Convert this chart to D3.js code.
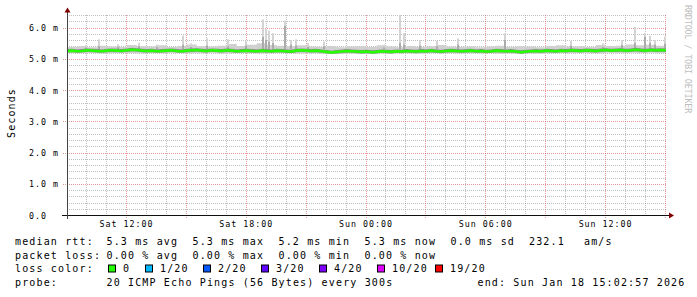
<!DOCTYPE html>
<html>
<head>
<meta charset="utf-8">
<script src="https://cdn.jsdelivr.net/npm/d3@7"></script>
<style>
    body { margin: 0; background: #fff; }
    svg { display: block; }
    text { font-family: "DejaVu Sans Mono", monospace; }
</style>
</head>
<body>
<svg id="canvas" width="697" height="297"></svg>
<script>
let startTime = new Date(2026, 0, 17, 9, 2, 57)
let endTime = new Date(2026, 0, 18, 15, 2, 57)

// median rtt in ms, one value every 15 minutes
let medianRtt = [
    5.25, 5.26, 5.24, 5.25, 5.27, 5.26, 5.25, 5.24, 5.26, 5.27,
    5.26, 5.25, 5.27, 5.29, 5.28, 5.26, 5.25, 5.26, 5.24, 5.25,
    5.26, 5.27, 5.25, 5.24, 5.26, 5.27, 5.28, 5.26, 5.25, 5.27,
    5.26, 5.25, 5.27, 5.26, 5.24, 5.25, 5.26, 5.25, 5.24, 5.26,
    5.25, 5.24, 5.26, 5.25, 5.24, 5.23, 5.26, 5.27, 5.26, 5.25,
    5.26, 5.24, 5.22, 5.20, 5.22, 5.23, 5.25, 5.24, 5.23, 5.22,
    5.23, 5.21, 5.22, 5.24, 5.23, 5.22, 5.24, 5.23, 5.25, 5.24,
    5.23, 5.25, 5.24, 5.26, 5.24, 5.23, 5.25, 5.26, 5.25, 5.24,
    5.25, 5.26, 5.24, 5.25, 5.23, 5.24, 5.26, 5.25, 5.24, 5.25,
    5.23, 5.21, 5.23, 5.24, 5.25, 5.24, 5.26, 5.25, 5.24, 5.26,
    5.25, 5.27, 5.26, 5.25, 5.27, 5.26, 5.25, 5.27, 5.28, 5.26,
    5.27, 5.28, 5.26, 5.27, 5.29, 5.27, 5.26, 5.28, 5.27, 5.28,
    5.27
]

// smoke band (lowest and typical highest ping), one value every 30 minutes
let smokeLow = [
    5.19, 5.18, 5.19, 5.17, 5.18, 5.19, 5.18, 5.17, 5.19, 5.18,
    5.19, 5.18, 5.17, 5.18, 5.19, 5.17, 5.18, 5.19, 5.18, 5.17,
    5.18, 5.19, 5.18, 5.17, 5.18, 5.16, 5.15, 5.16, 5.17, 5.15,
    5.16, 5.17, 5.16, 5.18, 5.17, 5.16, 5.18, 5.17, 5.18, 5.17,
    5.18, 5.17, 5.18, 5.16, 5.17, 5.18, 5.17, 5.16, 5.18, 5.19,
    5.18, 5.19, 5.18, 5.17, 5.19, 5.18, 5.19, 5.18, 5.19, 5.18,
    5.19
]
let smokeHigh = [
    5.38, 5.40, 5.37, 5.42, 5.39, 5.38, 5.44, 5.40, 5.39, 5.43,
    5.38, 5.41, 5.46, 5.40, 5.39, 5.42, 5.47, 5.41, 5.45, 5.50,
    5.44, 5.42, 5.40, 5.43, 5.39, 5.38, 5.41, 5.37, 5.39, 5.40,
    5.38, 5.43, 5.39, 5.37, 5.41, 5.38, 5.40, 5.44, 5.39, 5.38,
    5.40, 5.37, 5.39, 5.42, 5.38, 5.40, 5.39, 5.37, 5.41, 5.43,
    5.39, 5.40, 5.38, 5.44, 5.41, 5.42, 5.46, 5.43, 5.45, 5.42,
    5.40
]

// single-sample outliers: time, highest ping, second tier
let spikeTimes = [
    "2026-01-17 09:57", "2026-01-17 10:35", "2026-01-17 11:32", "2026-01-17 12:36", "2026-01-17 13:30",
    "2026-01-17 14:50", "2026-01-17 15:12", "2026-01-17 16:00", "2026-01-17 17:05", "2026-01-17 17:57",
    "2026-01-17 18:48", "2026-01-17 18:57", "2026-01-17 19:06", "2026-01-17 19:18", "2026-01-17 19:55",
    "2026-01-17 20:12", "2026-01-17 20:27", "2026-01-17 21:03", "2026-01-17 21:51", "2026-01-18 00:54",
    "2026-01-18 01:42", "2026-01-18 01:54", "2026-01-18 02:42", "2026-01-18 03:33", "2026-01-18 04:36",
    "2026-01-18 06:57", "2026-01-18 10:15", "2026-01-18 11:51", "2026-01-18 12:48", "2026-01-18 13:27",
    "2026-01-18 13:57", "2026-01-18 14:12", "2026-01-18 14:27", "2026-01-18 14:57"
]
let spikeTop = [
    5.44, 5.62, 5.46, 5.51, 5.45, 5.74, 5.49, 5.65, 5.62, 5.58,
    6.26, 5.95, 5.90, 5.82, 6.22, 5.60, 5.62, 5.50, 5.55, 5.45,
    6.40, 5.82, 5.60, 5.58, 5.65, 5.81, 5.57, 5.49, 5.60, 6.02,
    5.82, 5.73, 5.60, 5.71
]
let spikeMid = [
    5.36, 5.40, 5.38, 5.40, 5.37, 5.45, 5.38, 5.42, 5.40, 5.42,
    5.70, 5.60, 5.55, 5.50, 6.05, 5.45, 5.42, 5.38, 5.40, 5.36,
    5.50, 5.45, 5.42, 5.40, 5.45, 5.60, 5.42, 5.38, 5.44, 5.50,
    5.70, 5.50, 5.45, 5.48
]

let rttStatValues = ["5.3", "5.3", "5.2", "5.3", "0.0"]
let rttStatNames = ["avg", "max", "min", "now", "sd"]
let rttRate = "232.1"
let lossStatValues = ["0.00", "0.00", "0.00", "0.00"]
let lossStatNames = ["avg", "max", "min", "now"]
let lossLabels = ["0", "1/20", "2/20", "3/20", "4/20", "10/20", "19/20"]
let lossColors = ["#26ff00", "#00b8ff", "#0059ff", "#5e00ff", "#7e00ff", "#dd00ff", "#ff0000"]
let probeText = "20 ICMP Echo Pings (56 Bytes) every 300s"
let endText = "end: Sun Jan 18 15:02:57 2026"

let canvas = d3.select("#canvas")
let parseSpike = d3.timeParse("%Y-%m-%d %H:%M")

let xScale = d3.scaleTime().domain([startTime, endTime]).range([67, 666])
let yScale = d3.scaleLinear().domain([0, 6.4]).range([215, 15])

let drawGrid = () => {
    let grid = canvas.append("g")

    let minorY = d3.range(1, 33).filter(i => i % 5 !== 0).map(i => i * 0.2)
    let majorY = d3.range(1, 7)
    let minorX = d3.timeHour.range(startTime, endTime).filter(t => t.getHours() % 3 !== 0)
    let majorX = d3.timeHour.every(3).range(startTime, endTime)

    grid.selectAll(".minor-y").data(minorY).enter().append("line")
        .attr("x1", 67).attr("x2", 666)
        .attr("y1", d => Math.round(yScale(d)) + 0.5)
        .attr("y2", d => Math.round(yScale(d)) + 0.5)
        .attr("stroke", "#8c8c8c").attr("stroke-opacity", 0.55)
        .attr("stroke-dasharray", "1,1")

    grid.selectAll(".minor-x").data(minorX).enter().append("line")
        .attr("y1", 15).attr("y2", 215)
        .attr("x1", d => Math.round(xScale(d)) + 0.5)
        .attr("x2", d => Math.round(xScale(d)) + 0.5)
        .attr("stroke", "#8c8c8c").attr("stroke-opacity", 0.55)
        .attr("stroke-dasharray", "1,1")

    grid.selectAll(".major-y").data(majorY).enter().append("line")
        .attr("x1", 63).attr("x2", 666)
        .attr("y1", d => Math.round(yScale(d)) + 0.5)
        .attr("y2", d => Math.round(yScale(d)) + 0.5)
        .attr("stroke", "#c33").attr("stroke-opacity", 0.5)
        .attr("stroke-dasharray", "1,1")

    grid.selectAll(".major-x").data(majorX).enter().append("line")
        .attr("y1", 15).attr("y2", 218)
        .attr("x1", d => Math.round(xScale(d)) + 0.5)
        .attr("x2", d => Math.round(xScale(d)) + 0.5)
        .attr("stroke", "#c33").attr("stroke-opacity", 0.5)
        .attr("stroke-dasharray", "1,1")
}

let drawSmoke = () => {
    let smokeTimes = smokeLow.map((v, i) => d3.timeMinute.offset(startTime, i * 30))
    let medianTimes = medianRtt.map((v, i) => d3.timeMinute.offset(startTime, i * 15))

    let outer = d3.area()
        .x((d, i) => xScale(smokeTimes[i]))
        .y0((d, i) => yScale(smokeLow[i]))
        .y1((d, i) => yScale(smokeHigh[i]))
        .curve(d3.curveStepAfter)

    canvas.append("path")
        .datum(smokeLow)
        .attr("d", outer)
        .attr("fill", "#d0d0d0")

    let spikes = canvas.selectAll(".spike")
        .data(spikeTimes)
        .enter()
        .append("g")

    spikes.append("rect")
        .attr("x", d => Math.round(xScale(parseSpike(d))))
        .attr("width", 2)
        .attr("y", (d, i) => yScale(spikeTop[i]))
        .attr("height", (d, i) => yScale(5.3) - yScale(spikeTop[i]))
        .attr("fill", "#d4d4d4")

    spikes.append("rect")
        .attr("x", d => Math.round(xScale(parseSpike(d))))
        .attr("width", 2)
        .attr("y", (d, i) => yScale(spikeMid[i]))
        .attr("height", (d, i) => yScale(5.3) - yScale(spikeMid[i]))
        .attr("fill", "#ababab")

    let inner = d3.area()
        .x((d, i) => xScale(medianTimes[i]))
        .y0(d => yScale(d - 0.05))
        .y1(d => yScale(d + 0.06))

    canvas.append("path")
        .datum(medianRtt)
        .attr("d", inner)
        .attr("fill", "#8a8a8a")

    let medianLine = d3.line()
        .x((d, i) => xScale(medianTimes[i]))
        .y(d => yScale(d))

    canvas.append("path")
        .datum(medianRtt)
        .attr("d", medianLine)
        .attr("fill", "none")
        .attr("stroke", lossColors[0])
        .attr("stroke-width", 2.6)
}

let drawAxes = () => {
    let axis = canvas.append("g")

    axis.append("line")
        .attr("x1", 62).attr("x2", 670).attr("y1", 215.5).attr("y2", 215.5)
        .attr("stroke", "#111")
    axis.append("line")
        .attr("x1", 67.5).attr("x2", 67.5).attr("y1", 12).attr("y2", 219)
        .attr("stroke", "#444")

    axis.append("path")
        .attr("d", "M669,212.5 L674,215.5 L669,218.5 Z")
        .attr("fill", "#7f0000")
    axis.append("path")
        .attr("d", "M64.5,12.5 L67.5,7.5 L70.5,12.5 Z")
        .attr("fill", "#7f0000")

    let yTicks = d3.range(0, 7)
    axis.selectAll(".y-label").data(yTicks).enter().append("text")
        .attr("x", 29)
        .attr("y", d => yScale(d) + 3.5)
        .attr("font-size", "8.3px")
        .attr("letter-spacing", "1px")
        .attr("fill", "#000")
        .text(d => d === 0 ? "0.0" : d.toFixed(1) + " m")

    let xTicks = d3.timeHour.every(6).range(startTime, endTime)
    let fmt = d3.timeFormat("%a %H:%M")
    axis.selectAll(".x-label").data(xTicks).enter().append("text")
        .attr("x", d => xScale(d) + 0.5)
        .attr("y", 227)
        .attr("text-anchor", "middle")
        .attr("font-size", "8.3px")
        .attr("letter-spacing", "1px")
        .attr("fill", "#000")
        .text(d => fmt(d))

    canvas.append("text")
        .attr("transform", "translate(15, 113) rotate(-90)")
        .attr("text-anchor", "middle")
        .attr("font-size", "10px")
        .attr("letter-spacing", "1.1px")
        .text("Seconds")

    canvas.append("text")
        .attr("transform", "translate(685, 5) rotate(90)")
        .attr("font-size", "8.5px")
        .attr("letter-spacing", "-0.2px")
        .attr("fill", "#bdbdbd")
        .text("RRDTOOL / TOBI OETIKER")
}

let drawLegend = () => {
    let legend = canvas.append("g")
        .attr("font-size", "10px")
        .attr("letter-spacing", "1.15px")
        .attr("fill", "#000")

    let rows = [245, 258.7, 272.3, 286]

    legend.append("text").attr("x", 15).attr("y", rows[0]).text("median rtt:")
    legend.selectAll(".rtt").data(rttStatValues).enter().append("text")
        .attr("x", (d, i) => 106.5 + i * 86)
        .attr("y", rows[0])
        .text((d, i) => d + " ms " + rttStatNames[i])
    legend.append("text").attr("x", 529).attr("y", rows[0]).text(rttRate)
    legend.append("text").attr("x", 584).attr("y", rows[0]).text("am/s")

    legend.append("text").attr("x", 15).attr("y", rows[1]).text("packet loss:")
    legend.selectAll(".loss").data(lossStatValues).enter().append("text")
        .attr("x", (d, i) => 106.5 + i * 86)
        .attr("y", rows[1])
        .text((d, i) => d + " % " + lossStatNames[i])

    legend.append("text").attr("x", 15).attr("y", rows[2]).text("loss color:")
    let boxX = i => i === 0 ? 108.5 : 145.5 + (i - 1) * 58
    let items = legend.selectAll(".loss-item").data(lossLabels).enter().append("g")
    items.append("rect")
        .attr("x", (d, i) => boxX(i))
        .attr("y", 265)
        .attr("width", 7)
        .attr("height", 7)
        .attr("fill", (d, i) => lossColors[i])
        .attr("stroke", "#000")
    items.append("text")
        .attr("x", (d, i) => boxX(i) + 14.5)
        .attr("y", rows[2])
        .text(d => d)

    legend.append("text").attr("x", 15).attr("y", rows[3]).text("probe:")
    legend.append("text").attr("x", 106.5).attr("y", rows[3]).text(probeText)
    legend.append("text").attr("x", 477.5).attr("y", rows[3]).text(endText)
}

drawGrid()
drawSmoke()
drawAxes()
drawLegend()
</script>
</body>
</html>
